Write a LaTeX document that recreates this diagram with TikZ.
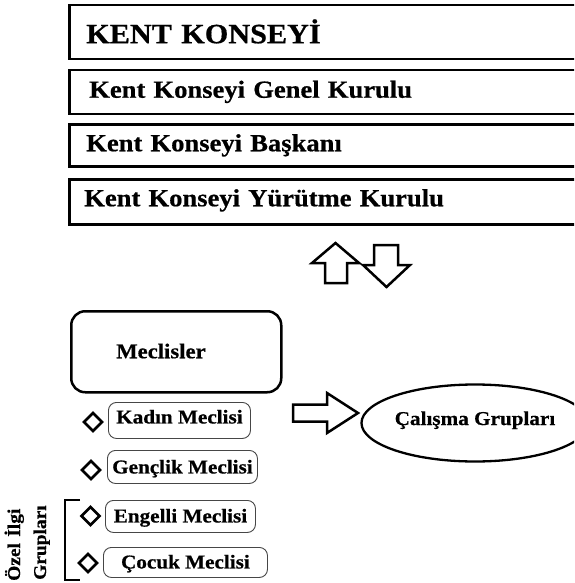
\documentclass[tikz,border=0pt]{standalone}
\usepackage{fontspec}
\setmainfont{Liberation Serif}[FakeStretch=1.08, BoldFeatures={FakeBold=0.6}]
\usetikzlibrary{shapes.geometric}
\tikzset{
  topbox/.style={draw, line width=2.5pt, anchor=north west, align=left, inner ysep=0pt,
    font=\bfseries\fontsize{24.6}{28}\selectfont, text width=520pt},
  smallbox/.style={draw=gray!55!black, line width=0.9pt, rounded corners=8pt, anchor=north west,
    inner sep=0pt, font=\bfseries\fontsize{19.6}{23}\selectfont, text height=14pt, text depth=2pt},
  dia/.style={draw, line width=2.6pt, diamond, inner sep=0pt, minimum width=19pt, minimum height=19pt},
  bigarrow/.style={draw, line width=2.5pt, line join=miter},
  sidelabel/.style={rotate=90, anchor=base west, inner sep=0pt, font=\bfseries\fontsize{18}{21}\selectfont},
}
\begin{document}
\begin{tikzpicture}[x=1pt,y=-1pt]
\clip (0,0) rectangle (574,583);
\fill[white] (0,0) rectangle (574,583);
% top boxes
\node[topbox, minimum height=54pt, inner xsep=17pt, text height=22pt, text depth=0pt,
  font=\bfseries\fontsize{28}{32}\selectfont] (kk) at (68,4) {KENT KONSEYİ};
\node[topbox, minimum height=44pt, inner xsep=20pt, text height=15pt, text depth=4pt] (gk) at (68,69) {Kent Konseyi Genel Kurulu};
\node[topbox, minimum height=42pt, inner xsep=17pt, text height=16pt, text depth=4pt] (bk) at (68,123) {Kent Konseyi Başkanı};
\node[topbox, minimum height=45pt, inner xsep=15pt, text height=15pt, text depth=6pt] (yk) at (68,178) {Kent Konseyi Yürütme Kurulu};
% up / down arrows
\draw[bigarrow] (325,283) -- (325,263) -- (312,263) -- (335.5,243) -- (359,263) -- (347,263) -- (347,283) -- cycle;
\draw[bigarrow] (374,245) -- (398,245) -- (398,265) -- (410,265) -- (386.5,287) -- (363,265) -- (374,265) -- cycle;
% Meclisler
\node[draw, line width=2.5pt, rounded corners=14pt, anchor=north west, minimum width=210pt, minimum height=81pt,
  text width=120pt, inner xsep=45pt, inner ysep=0pt, align=left, text height=15pt, text depth=2pt,
  font=\bfseries\fontsize{21}{25}\selectfont] (mec) at (70,310) {Meclisler};
% small boxes
\node[smallbox, minimum width=142pt, minimum height=36pt, text height=13pt, text depth=7pt] (kad) at (108,402) {Kadın Meclisi};
\node[smallbox, minimum width=150pt, minimum height=33pt, text height=14pt, text depth=1pt] (gen) at (107,450) {Gençlik Meclisi};
\node[smallbox, minimum width=150pt, minimum height=32pt] (eng) at (105,500) {Engelli Meclisi};
\node[smallbox, minimum width=164pt, minimum height=30pt] (coc) at (103,547) {Çocuk Meclisi};
% diamonds
\node[dia] (d1) at (93,422) {};
\node[dia] (d2) at (91,470) {};
\node[dia] (d3) at (90.5,516) {};
\node[dia] (d4) at (88,563) {};
% bracket
\draw[line width=2pt] (80,500) -- (65,500) -- (65,580) -- (80,580);
% rotated labels
\node[sidelabel] (oz) at (20,581) {Özel\hspace{0.35em}İlgi};
\node[sidelabel] (gr) at (46,580) {Grupları};
% right arrow
\draw[bigarrow] (293,404.5) -- (327,404.5) -- (327,393) -- (358,413) -- (327,433) -- (327,421.5) -- (293,421.5) -- cycle;
% ellipse
\node[draw, ellipse, line width=2.3pt, minimum width=190pt, minimum height=77pt, inner sep=0pt,
  text height=12pt, text depth=8pt, font=\bfseries\fontsize{19.6}{23}\selectfont] (cg) at (475,423) {Çalışma Grupları};
\end{tikzpicture}
\end{document}
